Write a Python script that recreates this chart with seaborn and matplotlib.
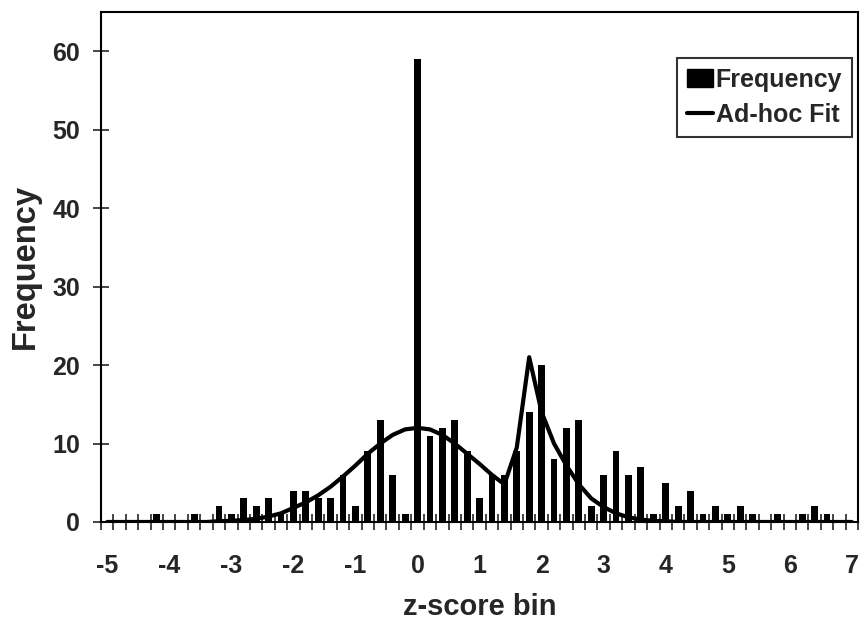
import numpy as np
import pandas as pd
import matplotlib
matplotlib.use("Agg")
import matplotlib.pyplot as plt
from matplotlib.patches import Patch
from matplotlib.lines import Line2D
import seaborn as sns

# z-score bin centres (-5.0 .. 7.0 in steps of 0.2)
bins = [round(-5.0 + 0.2 * i, 1) for i in range(61)]

freq = [0, 0, 0, 0, 1, 0, 0, 1, 0, 2,      # -5.0 .. -3.2
        1, 3, 2, 3, 1, 4, 4, 3, 3, 6,      # -3.0 .. -1.2
        2, 9, 13, 6, 1, 59, 11, 12, 13, 9,  # -1.0 .. 0.8
        3, 6, 6, 9, 14, 20, 8, 12, 13, 2,   # 1.0 .. 2.8
        6, 9, 6, 7, 1, 5, 2, 4, 1, 2,       # 3.0 .. 4.8
        1, 2, 1, 0, 1, 0, 1, 2, 1, 0,       # 5.0 .. 6.8
        0]                                  # 7.0

fit = [0, 0, 0, 0, 0, 0, 0, 0, 0, 0.1,
       0.15, 0.25, 0.4, 0.7, 1.1, 1.8, 2.5, 3.4, 4.5, 5.8,
       7.2, 8.7, 10.0, 11.1, 11.8, 12.0, 11.8, 11.1, 10.0, 8.7,
       7.4, 6.0, 4.8, 9.5, 21.0, 14.0, 10.0, 7.2, 4.8, 3.0,
       1.9, 1.1, 0.6, 0.3, 0.15, 0.1, 0, 0, 0, 0,
       0, 0, 0, 0, 0, 0, 0, 0, 0, 0,
       0]

x_labels = ["-5", "-4", "-3", "-2", "-1", "0", "1", "2", "3", "4", "5", "6", "7"]
y_ticks = [0, 10, 20, 30, 40, 50, 60]

df = pd.DataFrame({"bin": bins, "Frequency": freq, "Fit": fit})

sns.set_style("ticks")
plt.rcParams["font.family"] = ["Liberation Sans", "DejaVu Sans"]
plt.rcParams["font.weight"] = "bold"

fig = plt.figure(figsize=(8.65, 6.22), dpi=100)
ax = fig.add_axes([0.1168, 0.1608, 0.8752, 0.8199])

sns.barplot(data=df, x="bin", y="Frequency", native_scale=True, width=0.55,
            color="black", edgecolor="black", linewidth=0, saturation=1, ax=ax,
            errorbar=None)
sns.lineplot(data=df, x="bin", y="Fit", color="black", linewidth=3.0, ax=ax)

ax.set_xlim(-5.1, 7.1)
ax.set_ylim(0, 65)

# category boundary ticks (no labels) and integer labels without marks
ax.set_xticks([round(-5.1 + 0.2 * i, 1) for i in range(62)])
ax.set_xticklabels([])
ax.set_xticks([float(v) for v in x_labels], minor=True)
ax.set_xticklabels(x_labels, minor=True)
ax.tick_params(axis="x", which="major", direction="inout", length=12, width=1.2)
ax.tick_params(axis="x", which="minor", length=0, pad=23, labelsize=18)
ax.set_yticks(y_ticks)
ax.tick_params(axis="y", direction="inout", length=12, width=1.2, pad=9, labelsize=18)
for lab in ax.get_xticklabels(minor=True) + ax.get_yticklabels():
    lab.set_fontweight("bold")

for s in ax.spines.values():
    s.set_visible(True)
    s.set_linewidth(1.5)
    s.set_color("black")

ax.set_xlabel("z-score bin", fontsize=21, fontweight="bold", labelpad=11)
ax.set_ylabel("Frequency", fontsize=23.5, fontweight="bold", labelpad=8)

handles = [Patch(facecolor="black", edgecolor="black"),
           Line2D([0], [0], color="black", linewidth=3.0)]
leg = ax.legend(handles, ["Frequency", "Ad-hoc Fit"], loc="upper right",
                bbox_to_anchor=(0.992, 0.91), frameon=True, fancybox=False,
                prop={"size": 18, "weight": "bold"}, borderpad=0.4,
                handlelength=1.05, handletextpad=0.1, labelspacing=0.45,
                borderaxespad=0)
leg.get_frame().set_edgecolor("black")
leg.get_frame().set_linewidth(1.5)

fig.savefig("out.png", dpi=100)
